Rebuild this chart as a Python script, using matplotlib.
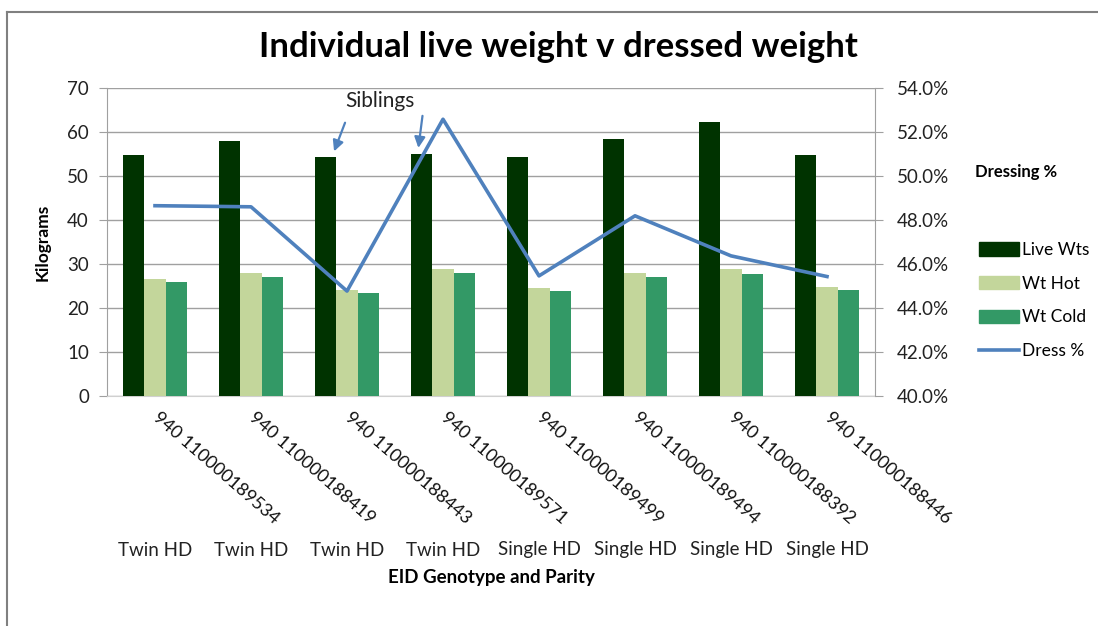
import matplotlib
matplotlib.use("agg")
import matplotlib.pyplot as plt
import numpy as np
from matplotlib.ticker import PercentFormatter
from matplotlib.patches import Patch
from matplotlib.lines import Line2D

#### Data ####
eid_ids = ["940 110000189534", "940 110000188419", "940 110000188443", "940 110000189571",
           "940 110000189499", "940 110000189494", "940 110000188392", "940 110000188446"]
parity = ["Twin HD", "Twin HD", "Twin HD", "Twin HD",
          "Single HD", "Single HD", "Single HD", "Single HD"]
live_wts = [54.7, 57.9, 54.3, 54.9, 54.3, 58.3, 62.2, 54.7]
wt_hot = [26.6, 28.0, 24.2, 28.8, 24.6, 28.0, 28.8, 24.8]
wt_cold = [25.8, 27.0, 23.5, 27.9, 23.9, 27.0, 27.8, 24.0]
dress_pct = [0.4865, 0.486, 0.4477, 0.5258, 0.4546, 0.4819, 0.4637, 0.4543]

col_live = "#003300"
col_hot = "#C3D69B"
col_cold = "#339966"
col_line = "#4F81BD"
col_grid = "#A0A0A0"

plt.rcParams["font.family"] = ["Lato", "DejaVu Sans"]

fig = plt.figure(figsize=(10.98, 6.26), dpi=100)
W, H = 1098, 626
ax = fig.add_axes([107 / W, 1 - 396 / H, (875 - 107) / W, (396 - 88) / H])

x = np.arange(len(eid_ids))
w = 0.22
ax.bar(x - w, live_wts, w, color=col_live, zorder=3)
ax.bar(x, wt_hot, w, color=col_hot, zorder=3)
ax.bar(x + w, wt_cold, w, color=col_cold, zorder=3)

ax.set_xlim(-0.5, len(eid_ids) - 0.5)
ax.set_ylim(0, 70)
ax.set_yticks(range(0, 71, 10))
ax.yaxis.grid(True, color=col_grid, lw=1, zorder=0)
ax.tick_params(axis="y", labelsize=13.5, colors="#222222", length=6, color=col_grid, pad=7)
ax.tick_params(axis="x", length=0)
for s in ["top", "right"]:
    ax.spines[s].set_visible(False)
ax.spines["left"].set_color(col_grid)
ax.spines["bottom"].set_color("#D0D0D0")

ax.set_xticks(x)
ax.set_xticklabels(eid_ids, rotation=-41, ha="left", va="center", rotation_mode="anchor",
                   fontsize=13, color="#111111")
ax.tick_params(axis="x", pad=14)
for i, p in enumerate(parity):
    ax.text(i, -154 / 4.4, p, ha="center", va="center", fontsize=13.5, color="#222222")

ax.set_ylabel("Kilograms", fontsize=12.5, fontweight="bold", labelpad=12)
ax.text(0.5, 1 - (577 - 88) / (396 - 88), "EID Genotype and Parity", transform=ax.transAxes,
        ha="center", va="center", fontsize=13.5, fontweight="bold")

ax2 = ax.twinx()
ax2.plot(x, dress_pct, color=col_line, lw=2.6, zorder=4)
ax2.set_ylim(0.40, 0.54)
ax2.set_yticks(np.arange(0.40, 0.5401, 0.02))
ax2.yaxis.set_major_formatter(PercentFormatter(1.0, decimals=1))
ax2.tick_params(axis="y", labelsize=13.5, colors="#222222", length=6, color=col_grid, pad=10)
for s in ["top", "left", "bottom"]:
    ax2.spines[s].set_visible(False)
ax2.spines["right"].set_color(col_grid)

# siblings annotation
ax.text(2.34, 67.0, "Siblings", ha="center", va="center", fontsize=15, color="#222222")
ax.annotate("", xy=(1.855, 55.0), xytext=(1.99, 62.7),
            arrowprops=dict(arrowstyle="-|>", color=col_line, lw=1.6, mutation_scale=16))
ax.annotate("", xy=(2.74, 55.75), xytext=(2.79, 64.3),
            arrowprops=dict(arrowstyle="-|>", color=col_line, lw=1.6, mutation_scale=16))

fig.text(558 / W, 1 - 47 / H, "Individual live weight v dressed weight", ha="center", va="center",
         fontsize=25, fontweight="bold")

fig.text(975 / W, 1 - 172 / H, "Dressing %", ha="left", va="center", fontsize=12, fontweight="bold")
handles = [Patch(color=col_live), Patch(color=col_hot), Patch(color=col_cold),
           Line2D([], [], color=col_line, lw=2.6)]
fig.legend(handles, ["Live Wts", "Wt Hot", "Wt Cold", "Dress %"], loc="upper left",
           bbox_to_anchor=(979 / W, 1 - 242 / H), frameon=False, fontsize=12.5,
           handlelength=2.3, handleheight=0.8, handletextpad=0.2, labelspacing=1.02,
           borderaxespad=0, borderpad=0)

# outer frame of the chart area
fig.add_artist(Line2D([7 / W, 7 / W], [0, 1 - 12 / H], transform=fig.transFigure, color="#808080", lw=1.5))
fig.add_artist(Line2D([7 / W, 1097 / W], [1 - 12 / H, 1 - 12 / H], transform=fig.transFigure,
                      color="#808080", lw=1.5))

fig.savefig("out.png", dpi=100)
